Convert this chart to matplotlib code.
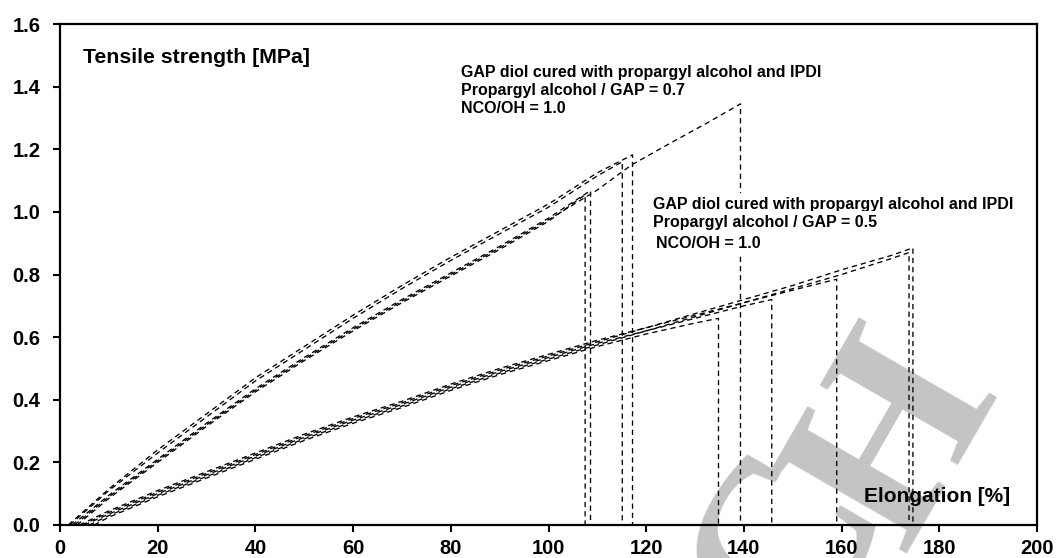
import matplotlib.pyplot as plt
from matplotlib.ticker import FormatStrFormatter

# ---- data ----
# propargyl alcohol / GAP = 0.7 (five specimens)
a1_x = [3.5, 10, 20, 30, 40, 50, 60, 70, 80, 90, 100, 107.5, 107.5]
a1_y = [0, 0.085, 0.20, 0.315, 0.425, 0.525, 0.62, 0.71, 0.795, 0.88, 0.97, 1.055, 0]
a2_x = [2.5, 10, 20, 30, 40, 50, 60, 70, 80, 90, 100, 108.6, 108.6]
a2_y = [0, 0.095, 0.21, 0.325, 0.435, 0.535, 0.63, 0.72, 0.805, 0.89, 0.98, 1.068, 0]
a3_x = [2, 10, 20, 30, 40, 50, 60, 70, 80, 90, 100, 106, 110, 115.1, 115.1]
a3_y = [0, 0.11, 0.23, 0.345, 0.46, 0.56, 0.66, 0.755, 0.845, 0.93, 1.015, 1.075, 1.115, 1.16, 0]
a4_x = [1.7, 10, 20, 30, 40, 50, 60, 70, 80, 90, 100, 106, 110, 117.2, 117.2]
a4_y = [0, 0.115, 0.24, 0.355, 0.47, 0.57, 0.67, 0.765, 0.855, 0.94, 1.025, 1.085, 1.125, 1.182, 0]
a5_x = [3, 10, 20, 30, 40, 50, 60, 70, 80, 90, 100, 110, 117, 125, 132, 139.3, 139.3]
a5_y = [0, 0.09, 0.205, 0.32, 0.43, 0.53, 0.625, 0.715, 0.80, 0.885, 0.975, 1.07, 1.15, 1.22, 1.28, 1.345, 0]

# propargyl alcohol / GAP = 0.5 (five specimens)
b1_x = [7, 10, 20, 30, 40, 50, 60, 70, 80, 90, 100, 110, 120, 130, 134.8, 134.8]
b1_y = [0, 0.025, 0.09, 0.15, 0.21, 0.27, 0.325, 0.375, 0.43, 0.48, 0.525, 0.57, 0.61, 0.645, 0.66, 0]
b2_x = [5, 10, 20, 30, 40, 50, 60, 70, 80, 90, 100, 110, 120, 130, 140, 145.7, 145.7]
b2_y = [0, 0.035, 0.10, 0.16, 0.22, 0.28, 0.335, 0.385, 0.44, 0.49, 0.535, 0.58, 0.62, 0.66, 0.70, 0.72, 0]
b3_x = [4, 10, 20, 30, 40, 50, 60, 70, 80, 90, 100, 110, 120, 130, 140, 150, 159, 159]
b3_y = [0, 0.045, 0.11, 0.17, 0.23, 0.29, 0.345, 0.395, 0.45, 0.50, 0.545, 0.59, 0.63, 0.67, 0.71, 0.75, 0.785, 0]
b4_x = [6, 10, 20, 30, 40, 50, 60, 70, 80, 90, 100, 110, 120, 130, 140, 150, 160, 170, 173.8, 173.8]
b4_y = [0, 0.03, 0.095, 0.155, 0.215, 0.275, 0.33, 0.38, 0.435, 0.485, 0.53, 0.575, 0.62, 0.665, 0.71, 0.755, 0.80, 0.85, 0.87, 0]
b5_x = [4.5, 10, 20, 30, 40, 50, 60, 70, 80, 90, 100, 110, 120, 130, 140, 150, 160, 170, 174.6, 174.6]
b5_y = [0, 0.04, 0.105, 0.165, 0.225, 0.285, 0.34, 0.39, 0.445, 0.495, 0.54, 0.585, 0.63, 0.675, 0.72, 0.765, 0.815, 0.86, 0.885, 0]

x_ticks = [0, 20, 40, 60, 80, 100, 120, 140, 160, 180, 200]
y_ticks = [0.0, 0.2, 0.4, 0.6, 0.8, 1.0, 1.2, 1.4, 1.6]

label_07 = ["GAP diol cured with propargyl alcohol and IPDI",
            "Propargyl alcohol / GAP = 0.7",
            "NCO/OH = 1.0"]
label_05 = ["GAP diol cured with propargyl alcohol and IPDI",
            "Propargyl alcohol / GAP = 0.5",
            "NCO/OH = 1.0"]

plt.rcParams['font.family'] = ['Liberation Sans', 'DejaVu Sans']
plt.rcParams['font.weight'] = 'bold'

W, H = 1056, 558
fig = plt.figure(figsize=(W / 100, H / 100), dpi=100)
ax = fig.add_axes([60 / W, 33 / H, 977 / W, 501 / H])
ax.set_facecolor('none')

# grey publisher watermark ("CH") behind the plot
wm = dict(family='Liberation Serif', fontweight='bold', fontsize=175, color='#c4c4c4',
          rotation=60, rotation_mode='anchor', ha='center', va='center', zorder=-5)
fig.text(900 / W, 1 - 442 / H, "H", **wm)
fig.text(792 / W, 1 - 550 / H, "C", **wm)

curves = [(a1_x, a1_y), (a2_x, a2_y), (a3_x, a3_y), (a4_x, a4_y), (a5_x, a5_y),
          (b1_x, b1_y), (b2_x, b2_y), (b3_x, b3_y), (b4_x, b4_y), (b5_x, b5_y)]
for xs, ys in curves:
    ax.plot(xs, ys, color='black', linewidth=0.95, linestyle=(0, (4, 3)), zorder=2)

ax.set_xlim(0, 200)
ax.set_ylim(0, 1.6)
ax.set_xticks(x_ticks)
ax.set_yticks(y_ticks)
ax.yaxis.set_major_formatter(FormatStrFormatter('%.1f'))
for s in ax.spines.values():
    s.set_linewidth(1.6)
ax.tick_params(direction='out', length=5, width=1.5, labelsize=14.5, top=False, right=False)
ax.tick_params(axis='y', pad=9)
ax.tick_params(axis='x', pad=5)

ax.text(0.0235, 0.934, "Tensile strength [MPa]", transform=ax.transAxes,
        fontsize=15.3, ha='left', va='center')
ax.text(0.823, 0.056, "Elongation [%]", transform=ax.transAxes,
        fontsize=15, ha='left', va='center')

for txt, yy in zip(label_07, [0.904, 0.868, 0.832]):
    ax.text(0.410, yy, txt, transform=ax.transAxes, fontsize=11.5, ha='left', va='center')

box = dict(facecolor='white', edgecolor='none', pad=3)
for txt, xx, yy in zip(label_05, [0.607, 0.607, 0.610], [0.639, 0.603, 0.561]):
    ax.text(xx, yy, txt, transform=ax.transAxes, fontsize=11.5, ha='left', va='center',
            bbox=box, zorder=3)

fig.savefig("out.png", dpi=100)
